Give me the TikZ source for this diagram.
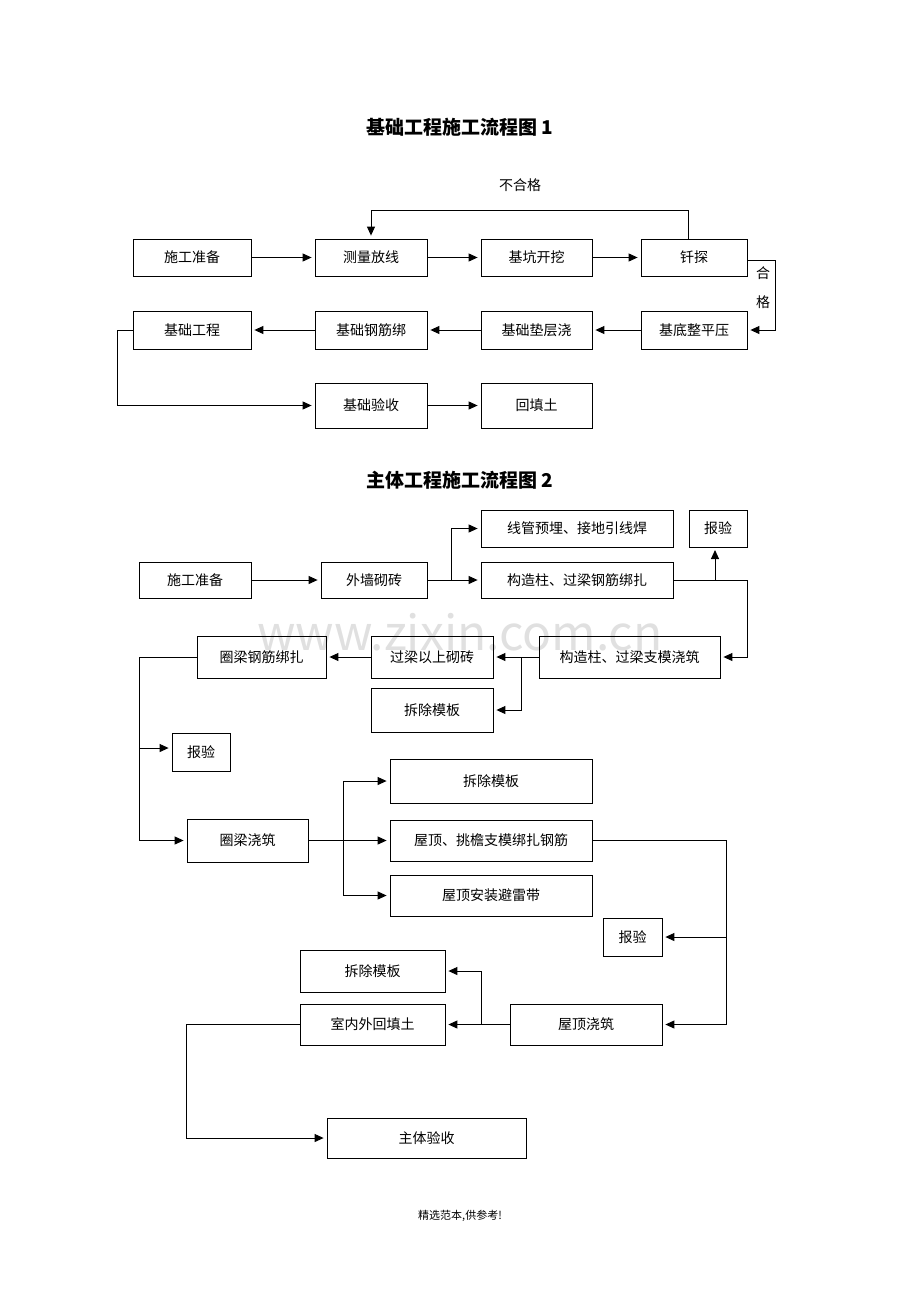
\documentclass[tikz,border=0pt]{standalone}
\usepackage{fontspec}
\setmainfont{Noto Sans CJK SC}
\usetikzlibrary{arrows.meta}
\begin{document}
\begin{tikzpicture}[x=1pt,y=-1pt,
  box/.style={draw,line width=0.8pt,inner sep=0pt,font=\fontsize{14}{16}\selectfont},
  ar/.style={line width=1pt,-{Triangle[length=9pt,width=8pt]},shorten >=3pt},
  ln/.style={line width=1pt}]
\useasboundingbox (0,0) rectangle (920,1302);
\node[font=\bfseries\fontsize{19}{22}\selectfont] (t1) at (460,127) {基础工程施工流程图 1};
\node[font=\fontsize{14}{16}\selectfont] (bhg) at (520,185) {不合格};
\node[box,minimum width=118pt,minimum height=37pt] (a1) at (192,257.5) {施工准备};
\node[box,minimum width=112pt,minimum height=37pt] (a2) at (371,257.5) {测量放线};
\node[box,minimum width=111pt,minimum height=37pt] (a3) at (536.5,257.5) {基坑开挖};
\node[box,minimum width=106pt,minimum height=37pt] (a4) at (694,257.5) {钎探};
\node[box,minimum width=118pt,minimum height=38pt] (b1) at (192,330) {基础工程};
\node[box,minimum width=112pt,minimum height=38pt] (b2) at (371,330) {基础钢筋绑};
\node[box,minimum width=111pt,minimum height=38pt] (b3) at (536.5,330) {基础垫层浇};
\node[box,minimum width=106pt,minimum height=38pt] (b4) at (694,330) {基底整平压};
\node[box,minimum width=112pt,minimum height=45pt] (c1) at (371,405.5) {基础验收};
\node[box,minimum width=111pt,minimum height=45pt] (c2) at (536.5,405.5) {回填土};
\node[font=\fontsize{14}{16}\selectfont] (he) at (763,273) {合};
\node[font=\fontsize{14}{16}\selectfont] (ge) at (763,302) {格};
\draw[ar] (a1) -- (a2);
\draw[ar] (a2) -- (a3);
\draw[ar] (a3) -- (a4);
\draw[ar] (a4.north -| 688,0) -- (688,210) -| (a2.north);
\draw[ar] (a4.east |- 0,260) -- (775,260) |- (b4.east);
\draw[ar] (b4) -- (b3);
\draw[ar] (b3) -- (b2);
\draw[ar] (b2) -- (b1);
\draw[ar] (b1.west) -- (117,330) |- (c1.west);
\draw[ar] (c1) -- (c2);

\node[font=\bfseries\fontsize{19}{22}\selectfont] (t2) at (460,480) {主体工程施工流程图 2};
\node[text=black!12,font=\fontsize{48}{50}\selectfont] (wm) at (460,632) {www.zixin.com.cn};
\node[box,minimum width=112pt,minimum height=36pt] (d1) at (195,580) {施工准备};
\node[box,minimum width=106pt,minimum height=36pt] (d2) at (374,580) {外墙砌砖};
\node[box,minimum width=192pt,minimum height=37pt] (d3) at (577,528.5) {线管预埋、接地引线焊};
\node[box,minimum width=192pt,minimum height=36pt] (d4) at (577,580) {构造柱、过梁钢筋绑扎};
\node[box,minimum width=58pt,minimum height=37pt] (d5) at (718,528.5) {报验};
\node[box,minimum width=181pt,minimum height=42pt] (d6) at (629.5,657) {构造柱、过梁支模浇筑};
\node[box,minimum width=122pt,minimum height=42pt] (d7) at (432,657) {过梁以上砌砖};
\node[box,minimum width=129pt,minimum height=42pt] (d8) at (261.5,657) {圈梁钢筋绑扎};
\node[box,minimum width=122pt,minimum height=44pt] (d9) at (432,710) {拆除模板};
\node[box,minimum width=58pt,minimum height=38pt] (d10) at (201,752) {报验};
\node[box,minimum width=121pt,minimum height=43pt] (d11) at (247.5,840.5) {圈梁浇筑};
\node[box,minimum width=202pt,minimum height=44pt] (d12) at (491,781) {拆除模板};
\node[box,minimum width=202pt,minimum height=41pt] (d13) at (491,840.5) {屋顶、挑檐支模绑扎钢筋};
\node[box,minimum width=202pt,minimum height=41pt] (d14) at (491,895.5) {屋顶安装避雷带};
\node[box,minimum width=59pt,minimum height=38pt] (d15) at (632.5,937) {报验};
\node[box,minimum width=145pt,minimum height=42pt] (d16) at (372.5,971) {拆除模板};
\node[box,minimum width=145pt,minimum height=41pt] (d17) at (372.5,1024.5) {室内外回填土};
\node[box,minimum width=152pt,minimum height=41pt] (d18) at (586,1024.5) {屋顶浇筑};
\node[box,minimum width=199pt,minimum height=40pt] (d19) at (426.5,1138) {主体验收};
\node[font=\fontsize{11}{13}\selectfont] (ft) at (460,1216) {精选范本,供参考!};
\draw[ar] (d1) -- (d2);
\draw[ar] (d2.east) -- (451,580) |- (d3.west);
\draw[ar] (451,580) -- (d4.west);
\draw[ar] (d4.east) -- (747,580) |- (d6.east);
\draw[ar] (715,580) -- (715,547);
\draw[ar] (d6) -- (d7);
\draw[ar] (521,657) |- (d9.east);
\draw[ar] (d7) -- (d8);
\draw[ar] (d8.west) -- (139,657) |- (d11.west);
\draw[ar] (139,748) -- (d10.west |- 0,748);
\draw[ln] (d11.east) -- (343,840.5);
\draw[ar] (343,840.5) |- (d12.west);
\draw[ar] (343,840.5) -- (d13.west);
\draw[ar] (343,840.5) |- (d14.west);
\draw[ar] (d13.east) -- (726,840.5) |- (d18.east);
\draw[ar] (726,937) -- (d15.east);
\draw[ar] (d18) -- (d17);
\draw[ar] (481,1024.5) |- (d16.east);
\draw[ar] (d17.west) -- (186,1024.5) |- (d19.west);
\end{tikzpicture}
\end{document}
